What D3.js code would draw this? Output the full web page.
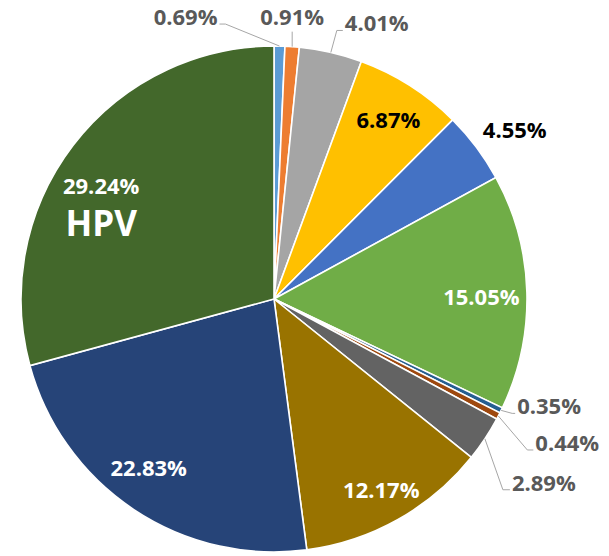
<!DOCTYPE html>
<html>
<head>
<meta charset="utf-8">
<script src="https://cdn.jsdelivr.net/npm/d3@7"></script>
<style>
    html, body { margin: 0; padding: 0; background: #fff; }
    svg { display: block; }
    text { font-family: 'Open Sans', 'Noto Sans', sans-serif; font-weight: 700; }
</style>
</head>
<body>
<svg id="chart" width="609" height="556"></svg>
<script>
// slice values in drawing order, clockwise from 12 o'clock
const values = [0.69, 0.91, 4.01, 6.87, 4.55, 15.05, 0.35, 0.44, 2.89, 12.17, 22.83, 29.24];
const names = ['', '', '', '', '', '', '', '', '', '', '', 'HPV'];
const colors = ['#5B9BD5', '#ED7D31', '#A5A5A5', '#FFC000', '#4472C4', '#70AD47',
    '#255E91', '#9E480E', '#636363', '#997300', '#264478', '#43682B'];

// where each label sits (inside slice, outside free, or outside with a leader)
const labelLayout = [
    { kind: 'leader', dx: -54, dy: -22, run: -6, fill: '#595959' },
    { kind: 'leader', dx: 0, dy: -15, run: 0, fill: '#595959', up: true },
    { kind: 'leader', dx: 6, dy: -22, run: 6, fill: '#595959' },
    { kind: 'inside', r: 0.84, nx: 0, ny: 0, fill: '#000' },
    { kind: 'inside', r: 1.16, nx: 6, ny: 7, fill: '#000' },
    { kind: 'inside', r: 0.82, nx: 0, ny: 4, fill: '#fff' },
    { kind: 'leader', dx: 11, dy: 3, run: 3, fill: '#595959' },
    { kind: 'leader', dx: 29, dy: 34, run: 6, fill: '#595959' },
    { kind: 'leader', dx: 18, dy: 51, run: 7, fill: '#595959' },
    { kind: 'inside', r: 0.865, nx: 0, ny: 0, fill: '#fff' },
    { kind: 'inside', r: 0.83, nx: -9, ny: -6, fill: '#fff' },
    { kind: 'inside', r: 0.78, nx: -16, ny: 25, fill: '#fff' },
];

const cx = 274;
const cy = 299;
const radius = 253;
const fontSize = 22;

const svg = d3.select('#chart');
const g = svg.append('g').attr('transform', `translate(${cx},${cy})`);

const pie = d3.pie().sort(null).value(d => d);
const arcs = pie(values);

const arc = d3.arc().innerRadius(0).outerRadius(radius);
const edge = d3.arc().innerRadius(radius).outerRadius(radius);

g.selectAll('path.slice')
    .data(arcs)
    .enter()
    .append('path')
    .attr('class', 'slice')
    .attr('d', arc)
    .style('fill', (d, i) => colors[i])
    .style('stroke', '#fff')
    .style('stroke-width', 1.6);

const fmt = v => `${v.toFixed(2)}%`;

arcs.forEach((d, i) => {
    const lay = labelLayout[i];
    if (lay.kind === 'inside') {
        const r = radius * lay.r;
        const c = d3.arc().innerRadius(r).outerRadius(r).centroid(d);
        const x = c[0] + lay.nx;
        const y = c[1] + lay.ny;
        if (names[i]) {
            g.append('text')
                .attr('x', x)
                .attr('y', y - 18)
                .attr('dy', '0.36em')
                .attr('text-anchor', 'middle')
                .attr('font-size', fontSize)
                .style('fill', lay.fill)
                .text(fmt(d.data));
            g.append('text')
                .attr('x', x)
                .attr('y', y + 19)
                .attr('dy', '0.36em')
                .attr('text-anchor', 'middle')
                .attr('font-size', 35)
                .style('fill', lay.fill)
                .text(names[i]);
        } else {
            g.append('text')
                .attr('x', x)
                .attr('y', y)
                .attr('dy', '0.36em')
                .attr('text-anchor', 'middle')
                .attr('font-size', fontSize)
                .style('fill', lay.fill)
                .text(fmt(d.data));
        }
    } else {
        const p = edge.centroid(d);
        const e = [p[0] + lay.dx, p[1] + lay.dy];
        const end = [e[0] + lay.run, e[1]];
        g.append('polyline')
            .attr('points', [p, e, end].map(q => q.join(',')).join(' '))
            .style('fill', 'none')
            .style('stroke', '#A6A6A6')
            .style('stroke-width', 1);
        const t = g.append('text')
            .attr('font-size', fontSize)
            .style('fill', lay.fill)
            .text(fmt(d.data));
        if (lay.up) {
            t.attr('x', end[0]).attr('y', end[1] - 7).attr('text-anchor', 'middle');
        } else {
            t.attr('x', end[0] + (lay.run < 0 ? -2 : 2))
                .attr('y', end[1] + 1)
                .attr('text-anchor', lay.run < 0 ? 'end' : 'start');
        }
    }
});
</script>
</body>
</html>
